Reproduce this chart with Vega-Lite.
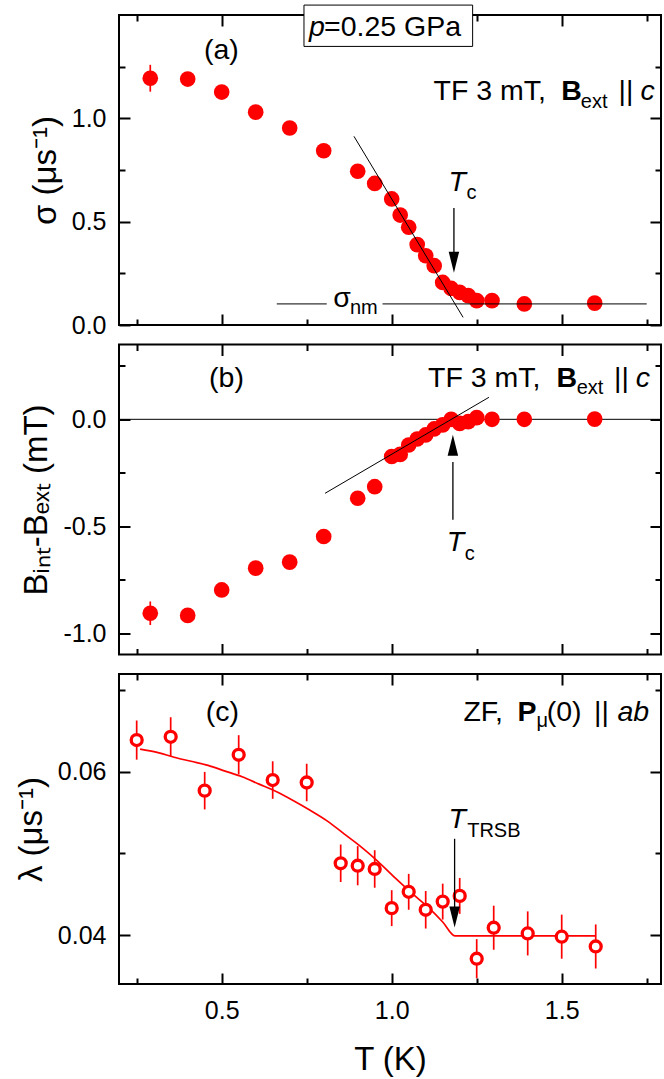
{
  "$schema": "https://vega.github.io/schema/vega-lite/v6.json",
  "padding": {"left": 14, "top": 3, "right": 0, "bottom": 0},
  "autosize": {"type": "pad"},
  "bounds": "flush",
  "spacing": 19.5,
  "background": "white",
  "config": {
    "view": {"stroke": "black", "strokeWidth": 2},
    "axis": {"domain": false, "grid": false, "tickColor": "black", "tickWidth": 2, "labelFont": "Liberation Sans", "labelFontSize": 25, "labelColor": "black", "titleFont": "Liberation Sans", "titleFontSize": 33, "titleFontWeight": "normal", "titleColor": "black"}
  },
  "datasets": {
    "sigma": [
      {"T":0.29,"sigma":1.194,"err":0.065},{"T":0.40,"sigma":1.190,"err":0.02},{"T":0.50,"sigma":1.127,"err":0.02},
      {"T":0.60,"sigma":1.030,"err":0.02},{"T":0.70,"sigma":0.953,"err":0.02},{"T":0.80,"sigma":0.843,"err":0.02},
      {"T":0.90,"sigma":0.744,"err":0.02},{"T":0.95,"sigma":0.685,"err":0.02},{"T":1.00,"sigma":0.610,"err":0.02},
      {"T":1.025,"sigma":0.532,"err":0.02},{"T":1.05,"sigma":0.473,"err":0.02},{"T":1.075,"sigma":0.389,"err":0.02},
      {"T":1.10,"sigma":0.335,"err":0.02},{"T":1.125,"sigma":0.287,"err":0.02},{"T":1.15,"sigma":0.206,"err":0.02},
      {"T":1.175,"sigma":0.177,"err":0.02},{"T":1.20,"sigma":0.158,"err":0.02},{"T":1.225,"sigma":0.142,"err":0.02},
      {"T":1.25,"sigma":0.118,"err":0.02},{"T":1.295,"sigma":0.118,"err":0.02},{"T":1.39,"sigma":0.102,"err":0.02},
      {"T":1.597,"sigma":0.106,"err":0.02}
    ],
    "bshift": [
      {"T":0.29,"dB":-0.907,"err":0.055},{"T":0.40,"dB":-0.917,"err":0.02},{"T":0.50,"dB":-0.798,"err":0.02},
      {"T":0.60,"dB":-0.696,"err":0.02},{"T":0.70,"dB":-0.668,"err":0.02},{"T":0.80,"dB":-0.548,"err":0.02},
      {"T":0.90,"dB":-0.369,"err":0.02},{"T":0.95,"dB":-0.315,"err":0.02},{"T":1.00,"dB":-0.174,"err":0.02},
      {"T":1.025,"dB":-0.164,"err":0.02},{"T":1.05,"dB":-0.12,"err":0.02},{"T":1.075,"dB":-0.092,"err":0.02},
      {"T":1.10,"dB":-0.073,"err":0.02},{"T":1.125,"dB":-0.045,"err":0.02},{"T":1.15,"dB":-0.026,"err":0.02},
      {"T":1.175,"dB":0.0,"err":0.02},{"T":1.20,"dB":-0.019,"err":0.02},{"T":1.225,"dB":-0.011,"err":0.02},
      {"T":1.25,"dB":0.008,"err":0.02},{"T":1.295,"dB":0.0,"err":0.02},{"T":1.39,"dB":0.0,"err":0.02},
      {"T":1.597,"dB":0.001,"err":0.02}
    ],
    "lambda": [
      {"T":0.25,"lam":0.0639,"err":0.0024},{"T":0.35,"lam":0.0643,"err":0.0024},{"T":0.45,"lam":0.0577,"err":0.0023},
      {"T":0.55,"lam":0.0621,"err":0.0024},{"T":0.65,"lam":0.0590,"err":0.0023},{"T":0.75,"lam":0.0587,"err":0.0023},
      {"T":0.85,"lam":0.0488,"err":0.0023},{"T":0.90,"lam":0.0485,"err":0.0024},{"T":0.95,"lam":0.0481,"err":0.0023},
      {"T":1.00,"lam":0.0433,"err":0.0022},{"T":1.05,"lam":0.0453,"err":0.0022},{"T":1.10,"lam":0.0431,"err":0.0023},
      {"T":1.15,"lam":0.0441,"err":0.0022},{"T":1.20,"lam":0.0448,"err":0.0022},{"T":1.25,"lam":0.0371,"err":0.0024},
      {"T":1.30,"lam":0.0409,"err":0.0027},{"T":1.40,"lam":0.0402,"err":0.0027},{"T":1.50,"lam":0.0398,"err":0.0027},
      {"T":1.60,"lam":0.0386,"err":0.0027}
    ],
    "lamfit": [
      {"T":0.26,"lam":0.0628},{"T":0.31,"lam":0.0624},{"T":0.36,"lam":0.0618},{"T":0.41,"lam":0.0613},
      {"T":0.46,"lam":0.0608},{"T":0.51,"lam":0.0601},{"T":0.56,"lam":0.0594},{"T":0.61,"lam":0.0585},
      {"T":0.66,"lam":0.0576},{"T":0.71,"lam":0.0565},{"T":0.76,"lam":0.0553},{"T":0.81,"lam":0.0540},
      {"T":0.86,"lam":0.0524},{"T":0.91,"lam":0.0508},{"T":0.96,"lam":0.0490},{"T":1.01,"lam":0.0470},
      {"T":1.06,"lam":0.0451},{"T":1.11,"lam":0.0433},{"T":1.15,"lam":0.0416},{"T":1.186,"lam":0.0399},
      {"T":1.60,"lam":0.0399}
    ]
  },
  "vconcat": [
    {
      "width": 542, "height": 310,
      "resolve": {"axis": {"x": "independent", "y": "independent"}},
      "layer": [
        {"data": {"name": "sigma"}, "mark": {"type": "errorbar", "ticks": false, "color": "red", "thickness": 1.7},
         "encoding": {
           "x": {"field": "T", "type": "quantitative", "scale": {"domain": [0.198, 1.792], "nice": false, "zero": false}, "axis": {"orient": "bottom", "values": [0.5, 1, 1.5], "tickSize": -11, "labels": false, "title": null}},
           "y": {"field": "sigma", "type": "quantitative", "scale": {"domain": [0, 1.5], "nice": false, "zero": false}, "axis": {"orient": "left", "values": [0, 0.5, 1], "tickSize": -11, "labelPadding": 24, "format": ".1f", "title": "σ  (μs⁻¹)", "titlePadding": 9}},
           "yError": {"field": "err"}}},
        {"data": {"name": "sigma"}, "mark": {"type": "circle", "color": "red", "opacity": 1, "size": 245},
         "encoding": {
           "x": {"field": "T", "type": "quantitative", "scale": {"domain": [0.198, 1.792], "nice": false, "zero": false}, "axis": {"orient": "bottom", "values": [0.25, 0.75, 1.25, 1.75], "tickSize": -6, "labels": false, "title": null}},
           "y": {"field": "sigma", "type": "quantitative", "scale": {"domain": [0, 1.5], "nice": false, "zero": false}, "axis": {"orient": "left", "values": [0.25, 0.75, 1.25], "tickSize": -6, "labels": false, "title": null}}}},
        {"data": {"values": [{"T": 0.889, "v": 0.913}, {"T": 1.21, "v": 0.037}]}, "mark": {"type": "line", "color": "black", "strokeWidth": 1},
         "encoding": {
           "x": {"field": "T", "type": "quantitative", "scale": {"domain": [0.198, 1.792], "nice": false, "zero": false}, "axis": {"orient": "top", "values": [0.5, 1, 1.5], "tickSize": -11, "labels": false, "title": null}},
           "y": {"field": "v", "type": "quantitative", "scale": {"domain": [0, 1.5], "nice": false, "zero": false}, "axis": {"orient": "right", "values": [0, 0.5, 1], "tickSize": -11, "labels": false, "title": null}}}},
        {"data": {"values": [{"x1": 0.662, "x2": 0.809, "v": 0.102}, {"x1": 0.973, "x2": 1.75, "v": 0.102}]}, "mark": {"type": "rule", "color": "black", "strokeWidth": 1},
         "encoding": {
           "x": {"field": "x1", "type": "quantitative", "scale": {"domain": [0.198, 1.792], "nice": false, "zero": false}, "axis": {"orient": "top", "values": [0.25, 0.75, 1.25, 1.75], "tickSize": -6, "labels": false, "title": null}},
           "x2": {"field": "x2"},
           "y": {"field": "v", "type": "quantitative", "scale": {"domain": [0, 1.5], "nice": false, "zero": false}, "axis": {"orient": "right", "values": [0.25, 0.75, 1.25], "tickSize": -6, "labels": false, "title": null}}}},
        {"data": {"values": [{"T": 1.183, "v1": 0.566, "v2": 0.32}]}, "mark": {"type": "rule", "color": "black", "strokeWidth": 1.3},
         "encoding": {
           "x": {"field": "T", "type": "quantitative", "scale": {"domain": [0.198, 1.792], "nice": false, "zero": false}, "axis": null},
           "y": {"field": "v1", "type": "quantitative", "scale": {"domain": [0, 1.5], "nice": false, "zero": false}, "axis": null},
           "y2": {"field": "v2"}}},
        {"data": {"values": [{"T": 1.183, "v": 0.355}]}, "mark": {"type": "point", "shape": "M0,1L-0.25,0L0.25,0Z", "filled": true, "color": "black", "opacity": 1, "size": 1764, "strokeWidth": 0},
         "encoding": {
           "x": {"field": "T", "type": "quantitative", "scale": {"domain": [0.198, 1.792], "nice": false, "zero": false}, "axis": null},
           "y": {"field": "v", "type": "quantitative", "scale": {"domain": [0, 1.5], "nice": false, "zero": false}, "axis": null}}},
        {"data": {"values": [{"x1": 0.742, "x2": 1.238, "y1": 1.348, "y2": 1.548}]}, "mark": {"type": "rect", "fill": "white", "stroke": "black", "strokeWidth": 1},
         "encoding": {
           "x": {"field": "x1", "type": "quantitative", "scale": {"domain": [0.198, 1.792], "nice": false, "zero": false}, "axis": null},
           "x2": {"field": "x2"},
           "y": {"field": "y1", "type": "quantitative", "scale": {"domain": [0, 1.5], "nice": false, "zero": false}, "axis": null},
           "y2": {"field": "y2"}}},
        {"data": {"values": [{"T": 0.448, "v": 1.287, "label": "(a)"}, {"T": 1.123, "v": 1.09, "label": "TF 3 mT,"}, {"T": 1.667, "v": 1.09, "label": "||"}, {"T": 0.801, "v": 1.40, "label": "=0.25 GPa"}, {"T": 0.828, "v": 0.085, "label": "σ"}]},
         "mark": {"type": "text", "align": "left", "baseline": "alphabetic", "font": "Liberation Sans", "fontSize": 28.5, "color": "black"},
         "encoding": {
           "x": {"field": "T", "type": "quantitative", "scale": {"domain": [0.198, 1.792], "nice": false, "zero": false}, "axis": null},
           "y": {"field": "v", "type": "quantitative", "scale": {"domain": [0, 1.5], "nice": false, "zero": false}, "axis": null},
           "text": {"field": "label"}}},
        {"data": {"values": [{"T": 1.499, "v": 1.09, "label": "B"}]},
         "mark": {"type": "text", "align": "left", "baseline": "alphabetic", "font": "Liberation Sans", "fontSize": 28.5, "fontWeight": "bold", "color": "black"},
         "encoding": {
           "x": {"field": "T", "type": "quantitative", "scale": {"domain": [0.198, 1.792], "nice": false, "zero": false}, "axis": null},
           "y": {"field": "v", "type": "quantitative", "scale": {"domain": [0, 1.5], "nice": false, "zero": false}, "axis": null},
           "text": {"field": "label"}}},
        {"data": {"values": [{"T": 1.732, "v": 1.09, "label": "c"}, {"T": 0.757, "v": 1.40, "label": "p"}, {"T": 1.167, "v": 0.65, "label": "T"}]},
         "mark": {"type": "text", "align": "left", "baseline": "alphabetic", "font": "Liberation Sans", "fontSize": 28.5, "fontStyle": "italic", "color": "black"},
         "encoding": {
           "x": {"field": "T", "type": "quantitative", "scale": {"domain": [0.198, 1.792], "nice": false, "zero": false}, "axis": null},
           "y": {"field": "v", "type": "quantitative", "scale": {"domain": [0, 1.5], "nice": false, "zero": false}, "axis": null},
           "text": {"field": "label"}}},
        {"data": {"values": [{"T": 1.556, "v": 1.048, "label": "ext"}, {"T": 1.22, "v": 0.61, "label": "c"}, {"T": 0.877, "v": 0.053, "label": "nm"}]},
         "mark": {"type": "text", "align": "left", "baseline": "alphabetic", "font": "Liberation Sans", "fontSize": 20, "color": "black"},
         "encoding": {
           "x": {"field": "T", "type": "quantitative", "scale": {"domain": [0.198, 1.792], "nice": false, "zero": false}, "axis": null},
           "y": {"field": "v", "type": "quantitative", "scale": {"domain": [0, 1.5], "nice": false, "zero": false}, "axis": null},
           "text": {"field": "label"}}}
      ]
    },
    {
      "width": 542, "height": 310,
      "resolve": {"axis": {"x": "independent", "y": "independent"}},
      "layer": [
        {"data": {"values": [{"v": 0}]}, "mark": {"type": "rule", "color": "black", "strokeWidth": 1},
         "encoding": {
           "y": {"field": "v", "type": "quantitative", "scale": {"domain": [-1.1, 0.35], "nice": false, "zero": false}, "axis": {"orient": "right", "values": [-0.75, -0.25, 0.25], "tickSize": -6, "labels": false, "title": null}}}},
        {"data": {"name": "bshift"}, "mark": {"type": "errorbar", "ticks": false, "color": "red", "thickness": 1.7},
         "encoding": {
           "x": {"field": "T", "type": "quantitative", "scale": {"domain": [0.198, 1.792], "nice": false, "zero": false}, "axis": {"orient": "bottom", "values": [0.5, 1, 1.5], "tickSize": -11, "labels": false, "title": null}},
           "y": {"field": "dB", "type": "quantitative", "scale": {"domain": [-1.1, 0.35], "nice": false, "zero": false}, "axis": {"orient": "left", "values": [-1, -0.5, 0], "tickSize": -11, "labelPadding": 24, "labelExpr": "replace(format(datum.value, '.1f'), '−', '-')", "title": "Bᵢₙₜ-Bₑₓₜ  (mT)", "titlePadding": 9}},
           "yError": {"field": "err"}}},
        {"data": {"name": "bshift"}, "mark": {"type": "circle", "color": "red", "opacity": 1, "size": 245},
         "encoding": {
           "x": {"field": "T", "type": "quantitative", "scale": {"domain": [0.198, 1.792], "nice": false, "zero": false}, "axis": {"orient": "bottom", "values": [0.25, 0.75, 1.25, 1.75], "tickSize": -6, "labels": false, "title": null}},
           "y": {"field": "dB", "type": "quantitative", "scale": {"domain": [-1.1, 0.35], "nice": false, "zero": false}, "axis": {"orient": "left", "values": [-0.75, -0.25, 0.25], "tickSize": -6, "labels": false, "title": null}}}},
        {"data": {"values": [{"T": 0.804, "v": -0.346}, {"T": 1.286, "v": 0.103}]}, "mark": {"type": "line", "color": "black", "strokeWidth": 1},
         "encoding": {
           "x": {"field": "T", "type": "quantitative", "scale": {"domain": [0.198, 1.792], "nice": false, "zero": false}, "axis": {"orient": "top", "values": [0.5, 1, 1.5], "tickSize": -11, "labels": false, "title": null}},
           "y": {"field": "v", "type": "quantitative", "scale": {"domain": [-1.1, 0.35], "nice": false, "zero": false}, "axis": {"orient": "right", "values": [-1, -0.5, 0], "tickSize": -11, "labels": false, "title": null}}}},
        {"data": {"values": [{"T": 1.18, "v1": -0.47, "v2": -0.2}]}, "mark": {"type": "rule", "color": "black", "strokeWidth": 1.3},
         "encoding": {
           "x": {"field": "T", "type": "quantitative", "scale": {"domain": [0.198, 1.792], "nice": false, "zero": false}, "axis": {"orient": "top", "values": [0.25, 0.75, 1.25, 1.75], "tickSize": -6, "labels": false, "title": null}},
           "y": {"field": "v1", "type": "quantitative", "scale": {"domain": [-1.1, 0.35], "nice": false, "zero": false}, "axis": null},
           "y2": {"field": "v2"}}},
        {"data": {"values": [{"T": 1.18, "v": -0.17}]}, "mark": {"type": "point", "shape": "M0,-1L-0.25,0L0.25,0Z", "filled": true, "color": "black", "opacity": 1, "size": 1764, "strokeWidth": 0},
         "encoding": {
           "x": {"field": "T", "type": "quantitative", "scale": {"domain": [0.198, 1.792], "nice": false, "zero": false}, "axis": null},
           "y": {"field": "v", "type": "quantitative", "scale": {"domain": [-1.1, 0.35], "nice": false, "zero": false}, "axis": null}}},
        {"data": {"values": [{"T": 0.463, "v": 0.153, "label": "(b)"}, {"T": 1.107, "v": 0.153, "label": "TF 3 mT,"}, {"T": 1.654, "v": 0.153, "label": "||"}]},
         "mark": {"type": "text", "align": "left", "baseline": "alphabetic", "font": "Liberation Sans", "fontSize": 28.5, "color": "black"},
         "encoding": {
           "x": {"field": "T", "type": "quantitative", "scale": {"domain": [0.198, 1.792], "nice": false, "zero": false}, "axis": null},
           "y": {"field": "v", "type": "quantitative", "scale": {"domain": [-1.1, 0.35], "nice": false, "zero": false}, "axis": null},
           "text": {"field": "label"}}},
        {"data": {"values": [{"T": 1.485, "v": 0.153, "label": "B"}]},
         "mark": {"type": "text", "align": "left", "baseline": "alphabetic", "font": "Liberation Sans", "fontSize": 28.5, "fontWeight": "bold", "color": "black"},
         "encoding": {
           "x": {"field": "T", "type": "quantitative", "scale": {"domain": [0.198, 1.792], "nice": false, "zero": false}, "axis": null},
           "y": {"field": "v", "type": "quantitative", "scale": {"domain": [-1.1, 0.35], "nice": false, "zero": false}, "axis": null},
           "text": {"field": "label"}}},
        {"data": {"values": [{"T": 1.718, "v": 0.153, "label": "c"}, {"T": 1.162, "v": -0.618, "label": "T"}]},
         "mark": {"type": "text", "align": "left", "baseline": "alphabetic", "font": "Liberation Sans", "fontSize": 28.5, "fontStyle": "italic", "color": "black"},
         "encoding": {
           "x": {"field": "T", "type": "quantitative", "scale": {"domain": [0.198, 1.792], "nice": false, "zero": false}, "axis": null},
           "y": {"field": "v", "type": "quantitative", "scale": {"domain": [-1.1, 0.35], "nice": false, "zero": false}, "axis": null},
           "text": {"field": "label"}}},
        {"data": {"values": [{"T": 1.544, "v": 0.117, "label": "ext"}, {"T": 1.215, "v": -0.657, "label": "c"}]},
         "mark": {"type": "text", "align": "left", "baseline": "alphabetic", "font": "Liberation Sans", "fontSize": 20, "color": "black"},
         "encoding": {
           "x": {"field": "T", "type": "quantitative", "scale": {"domain": [0.198, 1.792], "nice": false, "zero": false}, "axis": null},
           "y": {"field": "v", "type": "quantitative", "scale": {"domain": [-1.1, 0.35], "nice": false, "zero": false}, "axis": null},
           "text": {"field": "label"}}}
      ]
    },
    {
      "width": 542, "height": 310,
      "resolve": {"axis": {"x": "independent", "y": "independent"}},
      "layer": [
        {"data": {"name": "lamfit"}, "mark": {"type": "line", "color": "red", "strokeWidth": 1.7, "interpolate": "monotone"},
         "encoding": {
           "x": {"field": "T", "type": "quantitative", "scale": {"domain": [0.198, 1.792], "nice": false, "zero": false}, "axis": {"orient": "top", "values": [0.5, 1, 1.5], "tickSize": -11, "labels": false, "title": null}},
           "y": {"field": "lam", "type": "quantitative", "scale": {"domain": [0.034, 0.072], "nice": false, "zero": false}, "axis": {"orient": "right", "values": [0.04, 0.06], "tickSize": -11, "labels": false, "title": null}}}},
        {"data": {"name": "lambda"}, "mark": {"type": "errorbar", "ticks": false, "color": "red", "thickness": 1.7},
         "encoding": {
           "x": {"field": "T", "type": "quantitative", "scale": {"domain": [0.198, 1.792], "nice": false, "zero": false}, "axis": {"orient": "bottom", "values": [0.5, 1, 1.5], "tickSize": -11, "labelPadding": 25, "format": ".1f", "title": "T (K)", "titlePadding": 20}},
           "y": {"field": "lam", "type": "quantitative", "scale": {"domain": [0.034, 0.072], "nice": false, "zero": false}, "axis": {"orient": "left", "values": [0.04, 0.06], "tickSize": -11, "labelPadding": 24, "format": ".2f", "title": "λ  (μs⁻¹)", "titlePadding": 9}},
           "yError": {"field": "err"}}},
        {"data": {"name": "lambda"}, "mark": {"type": "point", "shape": "circle", "fill": "white", "fillOpacity": 1, "stroke": "red", "strokeWidth": 3.3, "size": 120, "opacity": 1},
         "encoding": {
           "x": {"field": "T", "type": "quantitative", "scale": {"domain": [0.198, 1.792], "nice": false, "zero": false}, "axis": {"orient": "bottom", "values": [0.25, 0.75, 1.25, 1.75], "tickSize": -6, "labels": false, "title": null}},
           "y": {"field": "lam", "type": "quantitative", "scale": {"domain": [0.034, 0.072], "nice": false, "zero": false}, "axis": {"orient": "left", "values": [0.05, 0.07], "tickSize": -6, "labels": false, "title": null}}}},
        {"data": {"values": [{"T": 1.185, "v1": 0.0518, "v2": 0.0425}]}, "mark": {"type": "rule", "color": "black", "strokeWidth": 1.3},
         "encoding": {
           "x": {"field": "T", "type": "quantitative", "scale": {"domain": [0.198, 1.792], "nice": false, "zero": false}, "axis": {"orient": "top", "values": [0.25, 0.75, 1.25, 1.75], "tickSize": -6, "labels": false, "title": null}},
           "y": {"field": "v1", "type": "quantitative", "scale": {"domain": [0.034, 0.072], "nice": false, "zero": false}, "axis": {"orient": "right", "values": [0.05, 0.07], "tickSize": -6, "labels": false, "title": null}},
           "y2": {"field": "v2"}}},
        {"data": {"values": [{"T": 1.185, "v": 0.0435}]}, "mark": {"type": "point", "shape": "M0,1L-0.25,0L0.25,0Z", "filled": true, "color": "black", "opacity": 1, "size": 1764, "strokeWidth": 0},
         "encoding": {
           "x": {"field": "T", "type": "quantitative", "scale": {"domain": [0.198, 1.792], "nice": false, "zero": false}, "axis": null},
           "y": {"field": "v", "type": "quantitative", "scale": {"domain": [0.034, 0.072], "nice": false, "zero": false}, "axis": null}}},
        {"data": {"values": [{"T": 0.453, "v": 0.0662, "label": "(c)"}, {"T": 1.211, "v": 0.0662, "label": "ZF,"}, {"T": 1.456, "v": 0.0662, "label": "(0)"}, {"T": 1.595, "v": 0.0662, "label": "||"}]},
         "mark": {"type": "text", "align": "left", "baseline": "alphabetic", "font": "Liberation Sans", "fontSize": 28.5, "color": "black"},
         "encoding": {
           "x": {"field": "T", "type": "quantitative", "scale": {"domain": [0.198, 1.792], "nice": false, "zero": false}, "axis": null},
           "y": {"field": "v", "type": "quantitative", "scale": {"domain": [0.034, 0.072], "nice": false, "zero": false}, "axis": null},
           "text": {"field": "label"}}},
        {"data": {"values": [{"T": 1.37, "v": 0.0662, "label": "P"}]},
         "mark": {"type": "text", "align": "left", "baseline": "alphabetic", "font": "Liberation Sans", "fontSize": 28.5, "fontWeight": "bold", "color": "black"},
         "encoding": {
           "x": {"field": "T", "type": "quantitative", "scale": {"domain": [0.198, 1.792], "nice": false, "zero": false}, "axis": null},
           "y": {"field": "v", "type": "quantitative", "scale": {"domain": [0.034, 0.072], "nice": false, "zero": false}, "axis": null},
           "text": {"field": "label"}}},
        {"data": {"values": [{"T": 1.664, "v": 0.0662, "label": "ab"}, {"T": 1.167, "v": 0.0531, "label": "T"}]},
         "mark": {"type": "text", "align": "left", "baseline": "alphabetic", "font": "Liberation Sans", "fontSize": 28.5, "fontStyle": "italic", "color": "black"},
         "encoding": {
           "x": {"field": "T", "type": "quantitative", "scale": {"domain": [0.198, 1.792], "nice": false, "zero": false}, "axis": null},
           "y": {"field": "v", "type": "quantitative", "scale": {"domain": [0.034, 0.072], "nice": false, "zero": false}, "axis": null},
           "text": {"field": "label"}}},
        {"data": {"values": [{"T": 1.426, "v": 0.0655, "label": "μ"}, {"T": 1.222, "v": 0.052, "label": "TRSB"}]},
         "mark": {"type": "text", "align": "left", "baseline": "alphabetic", "font": "Liberation Sans", "fontSize": 20, "color": "black"},
         "encoding": {
           "x": {"field": "T", "type": "quantitative", "scale": {"domain": [0.198, 1.792], "nice": false, "zero": false}, "axis": null},
           "y": {"field": "v", "type": "quantitative", "scale": {"domain": [0.034, 0.072], "nice": false, "zero": false}, "axis": null},
           "text": {"field": "label"}}}
      ]
    }
  ]
}
